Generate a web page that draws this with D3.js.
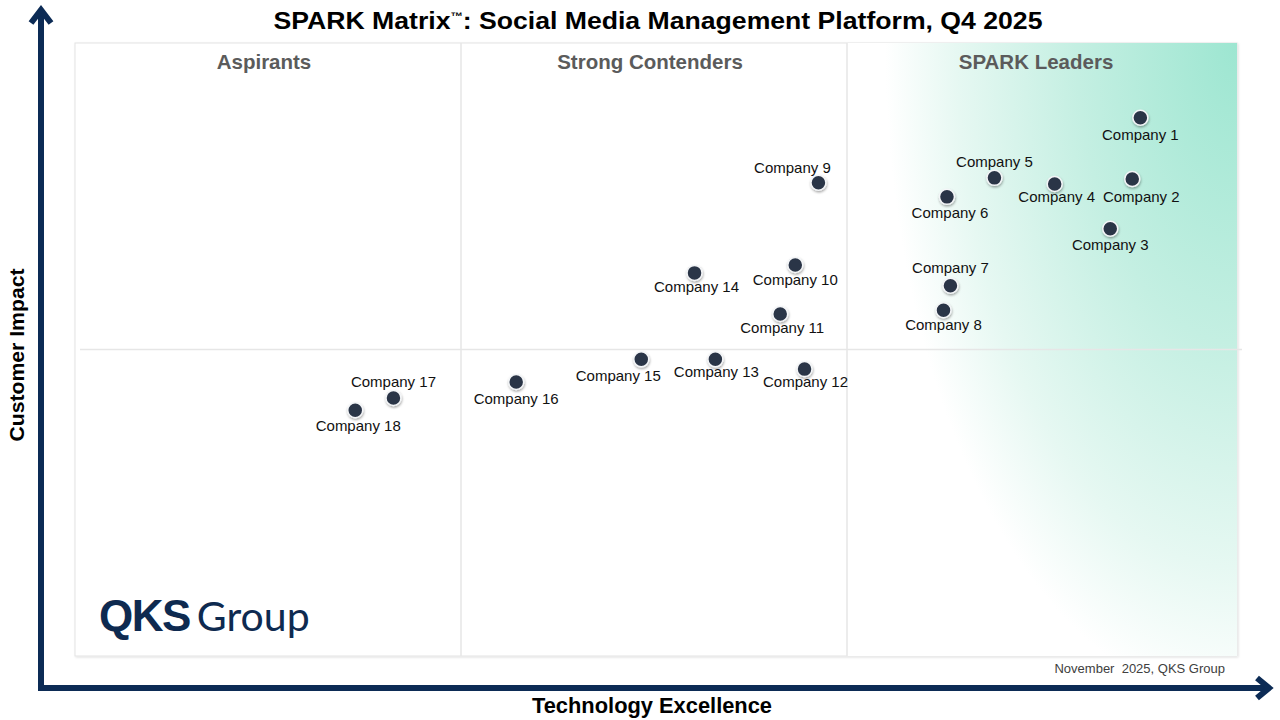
<!DOCTYPE html>
<html>
<head>
<meta charset="utf-8">
<script src="https://cdn.jsdelivr.net/npm/d3@7"></script>
<style>
  body { margin: 0; background: #fff; }
  text { font-family: "Liberation Sans", Arial, sans-serif; }
</style>
</head>
<body>
<svg id="chart" width="1280" height="720"></svg>
<script>
// vendor names and scores (0-100 on both axes)
var companies = ["Company 1", "Company 2", "Company 3", "Company 4", "Company 5", "Company 6",
	"Company 7", "Company 8", "Company 9", "Company 10", "Company 11", "Company 12",
	"Company 13", "Company 14", "Company 15", "Company 16", "Company 17", "Company 18"];
var techExcellence = [92.0, 91.3, 89.4, 84.6, 79.4, 75.3, 75.6, 75.0, 64.2, 62.2, 60.9, 63.0,
	55.3, 53.5, 48.9, 38.1, 27.5, 24.2];
var customerImpact = [87.8, 77.8, 69.7, 77.0, 78.0, 74.9, 60.4, 56.4, 77.2, 63.8, 55.8, 46.8,
	48.4, 62.5, 48.4, 44.7, 42.1, 40.1];
var quadrants = ["Aspirants", "Strong Contenders", "SPARK Leaders"];
var xBreaks = [100 / 3, 200 / 3];
var yBreak = 50;

// where each label sits relative to its dot: [dx, dy]
var labelOffset = [[0, 22], [9, 23], [0, 21], [2, 18], [0, -11], [3, 21], [0, -13], [0, 20],
	[-26, -10], [0, 20], [2, 19], [1, 18], [1, 18], [2, 19], [-23, 22], [0, 22], [0, -11], [3, 21]];

var svg = d3.select("#chart");
var pLeft = 75, pRight = 1237, pTop = 43, pBottom = 656;
var x = d3.scaleLinear().domain([0, 100]).range([pLeft, pRight - 4]);
var y = d3.scaleLinear().domain([0, 100]).range([pBottom, pTop]);
var navy = "#0c2b55";

var defs = svg.append("defs");
var grad = defs.append("radialGradient")
	.attr("id", "leaderGrad")
	.attr("gradientUnits", "userSpaceOnUse")
	.attr("cx", 0).attr("cy", 0).attr("r", 1)
	.attr("gradientTransform", "translate(" + pRight + "," + pTop + ") scale(400,750)");
grad.append("stop").attr("offset", "0%").attr("stop-color", "#9de6d1");
grad.append("stop").attr("offset", "40%").attr("stop-color", "#c4efe2");
grad.append("stop").attr("offset", "70%").attr("stop-color", "#e6f8f2");
grad.append("stop").attr("offset", "88%").attr("stop-color", "#ffffff");

var shadow = defs.append("filter").attr("id", "shadow")
	.attr("x", "-50%").attr("y", "-50%").attr("width", "200%").attr("height", "200%");
shadow.append("feDropShadow").attr("dx", 0.5).attr("dy", 1.5).attr("stdDeviation", 1)
	.attr("flood-color", "#000").attr("flood-opacity", 0.35);

var boxShadow = defs.append("filter").attr("id", "boxShadow")
	.attr("x", "-5%").attr("y", "-5%").attr("width", "110%").attr("height", "110%");
boxShadow.append("feDropShadow").attr("dx", 1).attr("dy", 1).attr("stdDeviation", 1)
	.attr("flood-color", "#000").attr("flood-opacity", 0.12);

// plot frame
svg.append("rect")
	.attr("x", pLeft).attr("y", pTop)
	.attr("width", pRight - pLeft).attr("height", pBottom - pTop)
	.attr("fill", "#fff")
	.attr("stroke", "#e3e3e3")
	.attr("filter", "url(#boxShadow)");

// leaders shading
svg.append("rect")
	.attr("x", x(xBreaks[1])).attr("y", pTop)
	.attr("width", pRight - x(xBreaks[1])).attr("height", pBottom - pTop)
	.attr("fill", "url(#leaderGrad)");

// dividers
svg.selectAll("line.vdiv")
	.data(xBreaks)
	.enter().append("line")
	.attr("class", "vdiv")
	.attr("x1", function(d) { return x(d); })
	.attr("x2", function(d) { return x(d); })
	.attr("y1", pTop).attr("y2", pBottom)
	.attr("stroke", "#e6e6e6").attr("stroke-width", 1.5);

svg.append("line")
	.attr("x1", pLeft + 5).attr("x2", pRight + 5)
	.attr("y1", y(yBreak)).attr("y2", y(yBreak))
	.attr("stroke", "#e6e6e6").attr("stroke-width", 1.5);

// quadrant headings
var colMid = [0, xBreaks[0], xBreaks[1], 100];
svg.selectAll("text.quad")
	.data(quadrants)
	.enter().append("text")
	.attr("class", "quad")
	.attr("x", function(d, i) { return x((colMid[i] + colMid[i + 1]) / 2) - 4; })
	.attr("y", 69)
	.attr("text-anchor", "middle")
	.attr("font-size", 20.5)
	.attr("font-weight", "bold")
	.attr("fill", "#5b5b5b")
	.text(function(d) { return d; });

// title
var title = svg.append("text")
	.attr("x", 658).attr("y", 29)
	.attr("text-anchor", "middle")
	.attr("font-size", 24)
	.attr("font-weight", "bold")
	.attr("fill", "#000")
	.attr("textLength", 769)
	.attr("lengthAdjust", "spacingAndGlyphs");
title.append("tspan").text("SPARK Matrix");
title.append("tspan").attr("font-size", 11).attr("dy", -9).text("™");
title.append("tspan").attr("dy", 9).text(": Social Media Management Platform, Q4 2025");

// axes arrows
var axisG = svg.append("g")
	.attr("stroke", navy)
	.attr("stroke-width", 6)
	.attr("fill", "none");
axisG.append("line").attr("x1", 41).attr("y1", 691).attr("x2", 41).attr("y2", 11);
axisG.append("polyline").attr("points", "31,23 41,10 51,23").attr("stroke-linejoin", "miter");
axisG.append("line").attr("x1", 38).attr("y1", 688).attr("x2", 1268).attr("y2", 688);
axisG.append("polyline").attr("points", "1257,678 1269,688 1257,698").attr("stroke-linejoin", "miter");

svg.append("text")
	.attr("transform", "translate(24,355) rotate(-90)")
	.attr("text-anchor", "middle")
	.attr("font-size", 21)
	.attr("font-weight", "bold")
	.attr("fill", "#000")
	.attr("textLength", 173)
	.attr("lengthAdjust", "spacingAndGlyphs")
	.text("Customer Impact");

svg.append("text")
	.attr("x", 652).attr("y", 713)
	.attr("text-anchor", "middle")
	.attr("font-size", 22)
	.attr("font-weight", "bold")
	.attr("fill", "#000")
	.attr("textLength", 240)
	.attr("lengthAdjust", "spacingAndGlyphs")
	.text("Technology Excellence");

svg.append("text")
	.attr("x", 1225).attr("y", 673)
	.attr("text-anchor", "end")
	.attr("font-size", 13)
	.attr("fill", "#404040")
	.attr("xml:space", "preserve")
	.text("November  2025, QKS Group");

// logo
var logo = svg.append("text")
	.attr("x", 99).attr("y", 631)
	.attr("fill", "#0e2a50");
logo.append("tspan")
	.attr("font-size", 44).attr("font-weight", "bold")
	.attr("letter-spacing", -1.5)
	.text("QKS");
logo.append("tspan")
	.attr("font-family", "Lato, 'Liberation Sans', sans-serif")
	.attr("font-size", 41)
	.attr("dx", 7)
	.text("Group");

// vendors
var pts = companies.map(function(name, i) {
	return { name: name, tx: techExcellence[i], ci: customerImpact[i], off: labelOffset[i] };
});

var g = svg.selectAll("g.vendor")
	.data(pts)
	.enter().append("g")
	.attr("class", "vendor")
	.attr("transform", function(d) { return "translate(" + x(d.tx) + "," + y(d.ci) + ")"; });

g.append("circle")
	.attr("r", 7.5)
	.attr("fill", "#2c3547")
	.attr("stroke", "#f4f6f8")
	.attr("stroke-width", 1.5)
	.attr("filter", "url(#shadow)");

g.append("text")
	.attr("x", function(d) { return d.off[0]; })
	.attr("y", function(d) { return d.off[1]; })
	.attr("text-anchor", "middle")
	.attr("font-size", 15)
	.attr("fill", "#111")
	.text(function(d) { return d.name; });
</script>
</body>
</html>
